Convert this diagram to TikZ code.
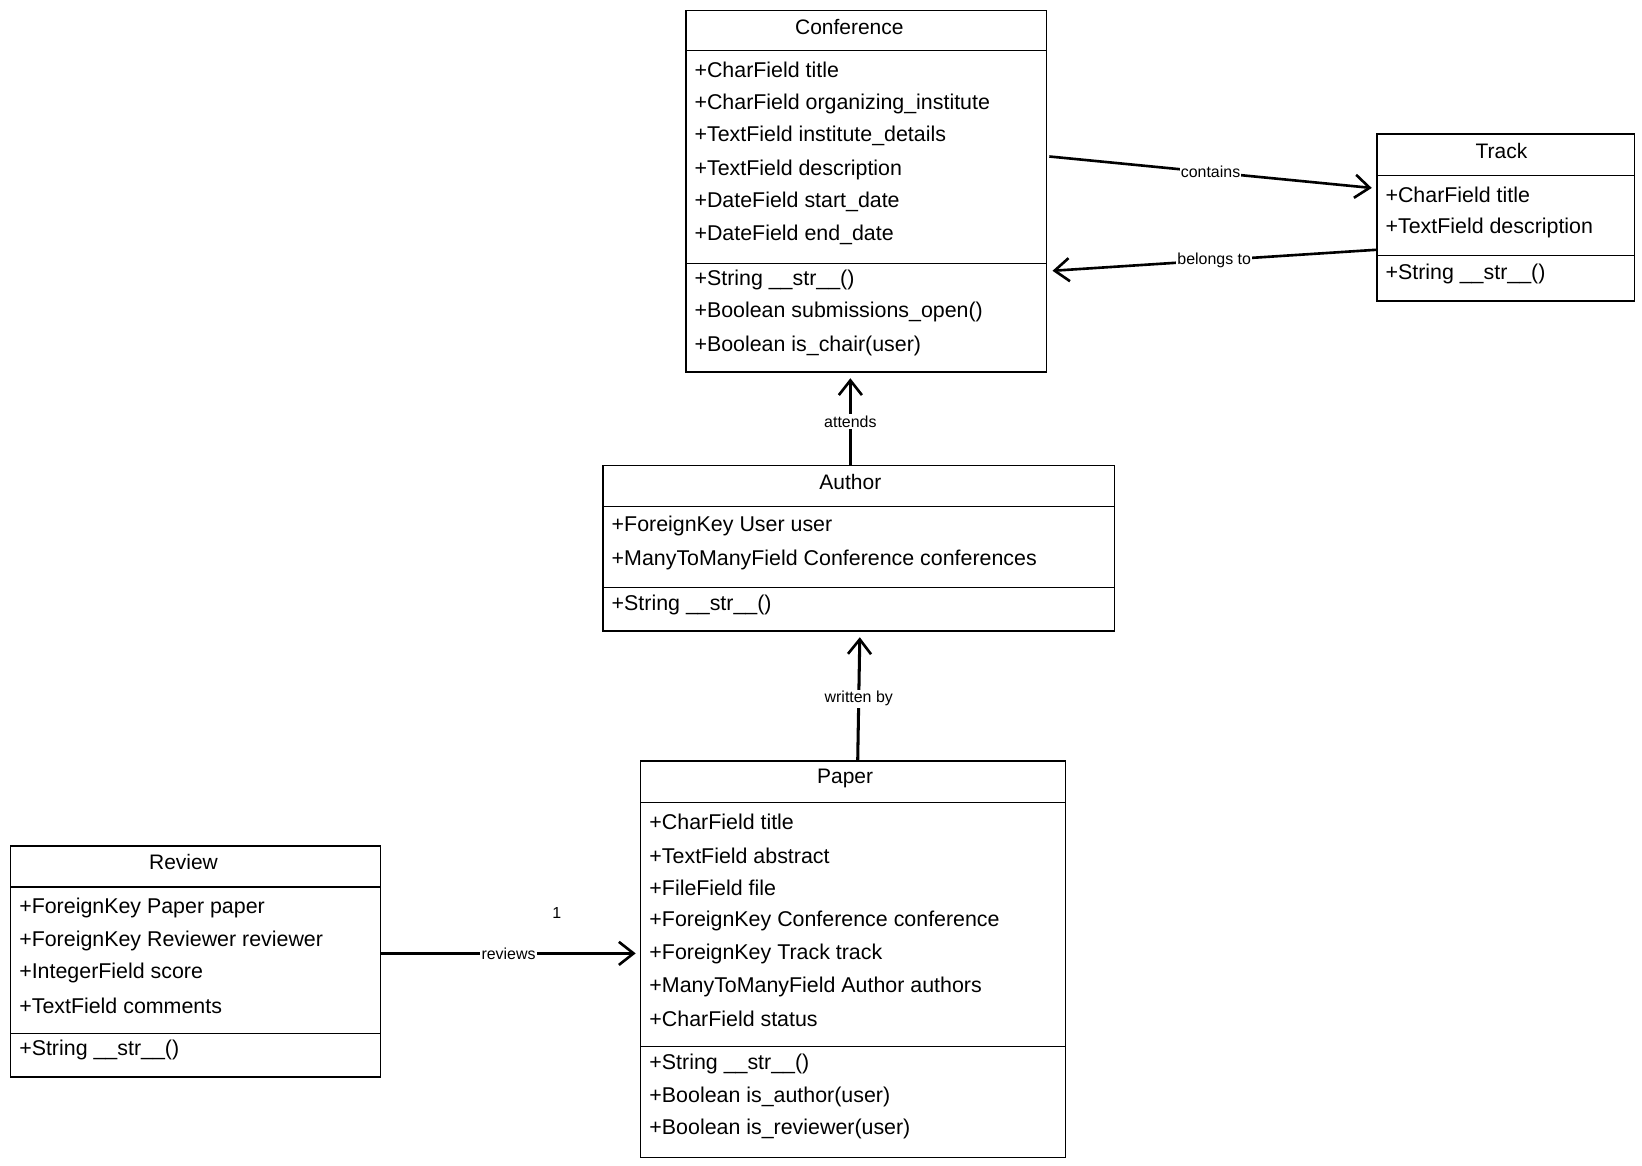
\documentclass[tikz,border=0pt]{standalone}
\usepackage{fontspec}
\setmainfont{Liberation Sans}
\usetikzlibrary{arrows.meta,fit,calc}
\begin{document}
\begin{tikzpicture}[x=0.5pt,y=-0.5pt,
  classbox/.style={draw=black, line width=0.75pt, inner sep=0pt},
  sepline/.style={draw=black, line width=0.55pt},
  title/.style={inner sep=0pt, font=\fontsize{10}{12}\selectfont},
  attr/.style={anchor=west, inner sep=0pt, font=\fontsize{10.2}{12}\selectfont},
  arr/.style={draw=black, line width=1.25pt, -{Straight Barb[length=7pt,width=11pt,line width=1.25pt]}},
  lbl/.style={fill=white, inner sep=0.6pt, font=\fontsize{7.6}{9}\selectfont},
]
\useasboundingbox (0,0) rectangle (1566,1112);
\fill[white] (0,0) rectangle (1566,1112);

% ---------- Conference ----------
\node[classbox, fit={(654,10) (998,355)}] (conf) {};
\node[title] (conf-t) at (810,26) {Conference};
\draw[sepline] (654,48) -- (998,48);
\draw[sepline] (654,251) -- (998,251);
\foreach \t/\yy [count=\i] in {+CharField title/67, +CharField organizing\_institute/99, +TextField institute\_details/130, +TextField description/162, +DateField start\_date/193, +DateField end\_date/224, +String \_\_str\_\_()/267, +Boolean submissions\_open()/298, +Boolean is\_chair(user)/330}
  \node[attr] (conf-\i) at (662,\yy) {\t};

% ---------- Track ----------
\node[classbox, fit={(1313,128) (1559,287)}] (track) {};
\node[title] (track-t) at (1432,144) {Track};
\draw[sepline] (1313,167) -- (1559,167);
\draw[sepline] (1313,244) -- (1559,244);
\foreach \t/\yy [count=\i] in {+CharField title/186, +TextField description/217, +String \_\_str\_\_()/261}
  \node[attr] (track-\i) at (1321,\yy) {\t};

% ---------- Author ----------
\node[classbox, fit={(575,444) (1063,602)}] (author) {};
\node[title] (author-t) at (811,460) {Author};
\draw[sepline] (575,483) -- (1063,483);
\draw[sepline] (575,560) -- (1063,560);
\foreach \t/\yy [count=\i] in {+ForeignKey User user/502, +ManyToManyField Conference conferences/534, +String \_\_str\_\_()/577}
  \node[attr] (author-\i) at (583,\yy) {\t};

% ---------- Paper ----------
\node[classbox, fit={(611,726) (1016,1104)}] (paper) {};
\node[title] (paper-t) at (806,742) {Paper};
\draw[sepline] (611,765) -- (1016,765);
\draw[sepline] (611,998) -- (1016,998);
\foreach \t/\yy [count=\i] in {+CharField title/784, +TextField abstract/816, +FileField file/847, +ForeignKey Conference conference/878, +ForeignKey Track track/910, +ManyToManyField Author authors/941, +CharField status/972, +String \_\_str\_\_()/1015, +Boolean is\_author(user)/1046, +Boolean is\_reviewer(user)/1077}
  \node[attr] (paper-\i) at (619,\yy) {\t};

% ---------- Review ----------
\node[classbox, fit={(10,807) (363,1027)}] (review) {};
\node[title] (review-t) at (175,822) {Review};
\draw[sepline] (10,846) -- (363,846);
\draw[sepline] (10,986) -- (363,986);
\foreach \t/\yy [count=\i] in {+ForeignKey Paper paper/866, +ForeignKey Reviewer reviewer/897, +IntegerField score/928, +TextField comments/959, +String \_\_str\_\_()/1001}
  \node[attr] (review-\i) at (18,\yy) {\t};

% ---------- Connectors ----------
\draw[arr] ($(conf.north east)+(2,140)$) -- node[lbl, pos=0.5] (l-contains) {contains} ($(track.north west)+(-4,52)$);
\draw[arr] ($(track.north west)+(0,111)$) -- node[lbl, pos=0.5] (l-belongs) {belongs to} ($(conf.north east)+(5,249)$);
\draw[arr] ($(author.north)+(-8,0)$) -- node[lbl, pos=0.5] (l-attends) {attends} ($(conf.south)+(-15,5)$);
\draw[arr, line width=1.45pt] ($(paper.north)+(4.5,0)$) -- node[lbl, pos=0.5] (l-written) {written by} ($(author.south)+(1,5)$);
\draw[arr] ($(review.north east)+(0,103)$) -- node[lbl, pos=0.5] (l-reviews) {reviews} ($(paper.north west)+(-4,184)$);
\node[lbl, fill=none] (mult-1) at (531,871) {1};
\end{tikzpicture}
\end{document}
